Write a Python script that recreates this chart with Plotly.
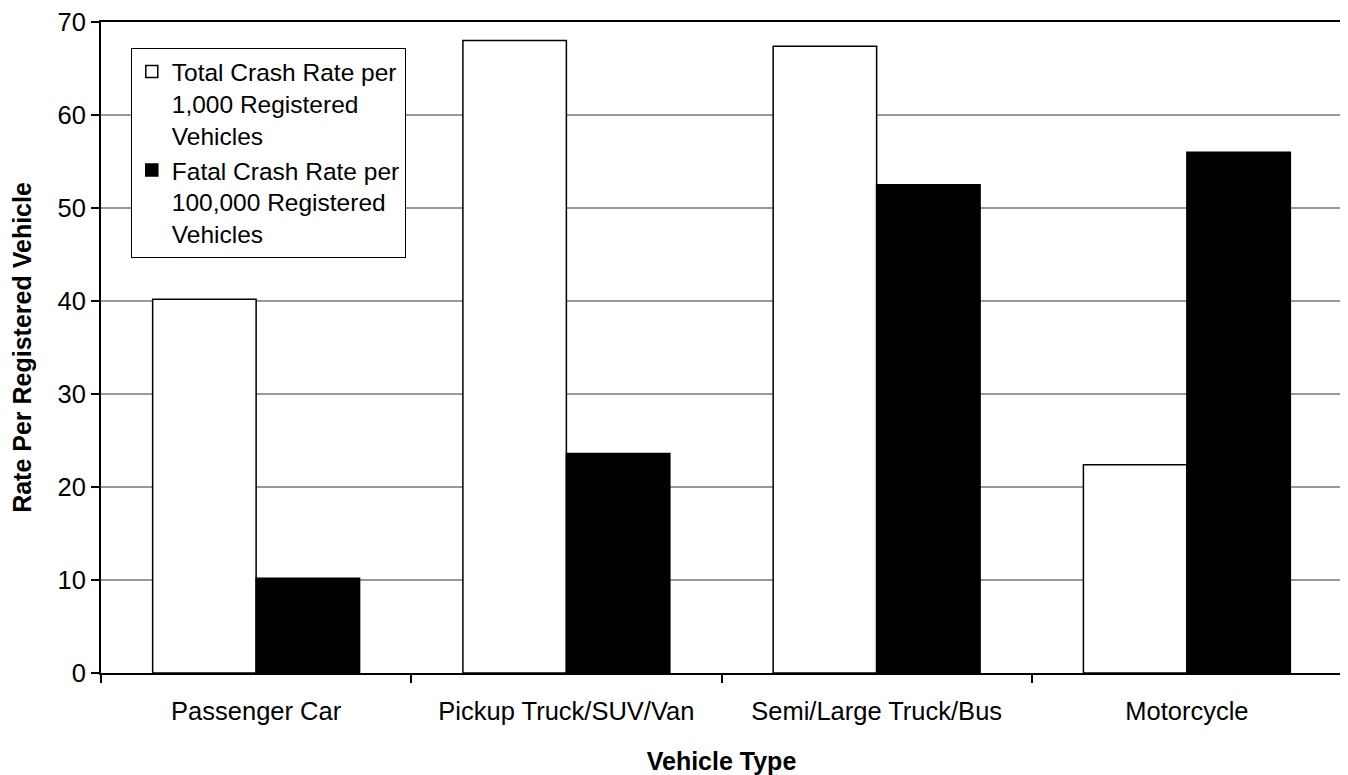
import plotly.graph_objects as go

categories = ["Passenger Car", "Pickup Truck/SUV/Van", "Semi/Large Truck/Bus", "Motorcycle"]
total_crash_rate = [40.2, 68.0, 67.4, 22.4]
fatal_crash_rate = [10.2, 23.6, 52.5, 56.0]
series_names = [
    "Total Crash Rate per<br>1,000 Registered<br>Vehicles",
    "Fatal Crash Rate per<br>100,000 Registered<br>Vehicles",
]
y_ticks = [0, 10, 20, 30, 40, 50, 60, 70]

FONT = "Liberation Sans, Arial, sans-serif"
FS = 25.5

fig = go.Figure()
fig.add_trace(go.Bar(
    x=categories, y=total_crash_rate, name=series_names[0],
    marker=dict(color="white", line=dict(color="black", width=1.5)),
))
fig.add_trace(go.Bar(
    x=categories, y=fatal_crash_rate, name=series_names[1],
    marker=dict(color="black", line=dict(color="black", width=1.5)),
))

# page body has an 8px margin; sizes compensate for it
fig.update_layout(
    width=1340, height=767,
    margin=dict(l=93, r=6, t=14, b=102),
    paper_bgcolor="white", plot_bgcolor="white",
    barmode="group", bargap=0.333, bargroupgap=0,
    font=dict(family=FONT, size=FS, color="black"),
    showlegend=True,
    legend=dict(
        x=0.024, y=0.96, xanchor="left", yanchor="top",
        bgcolor="white", bordercolor="black", borderwidth=1,
        font=dict(family=FONT, size=24.5, color="black"),
        valign="top", itemwidth=30, tracegroupgap=0,
    ),
)
fig.update_xaxes(
    type="category", automargin=False,
    showline=True, linecolor="black", linewidth=2, mirror=True,
    ticks="outside", ticklen=8, tickcolor="black", tickwidth=1.5,
    tickson="boundaries", ticklabelstandoff=14,
    tickfont=dict(family=FONT, size=FS, color="black"),
    title=dict(text="<b>Vehicle Type</b>", font=dict(family=FONT, size=25, color="black"), standoff=30),
    showgrid=False,
)
fig.update_yaxes(
    range=[0, 70], tickvals=y_ticks, automargin=False,
    ticklabeloverflow="allow",
    showline=True, linecolor="black", linewidth=2, mirror=True,
    ticks="outside", ticklen=8, tickcolor="black", tickwidth=1.5,
    tickfont=dict(family=FONT, size=FS, color="black"),
    showgrid=True, gridcolor="#999999", gridwidth=1.5,
    zeroline=False,
    title=dict(text="<b>Rate Per Registered Vehicle</b>", font=dict(family=FONT, size=25, color="black"), standoff=19),
)

fig.write_html("out.html")
